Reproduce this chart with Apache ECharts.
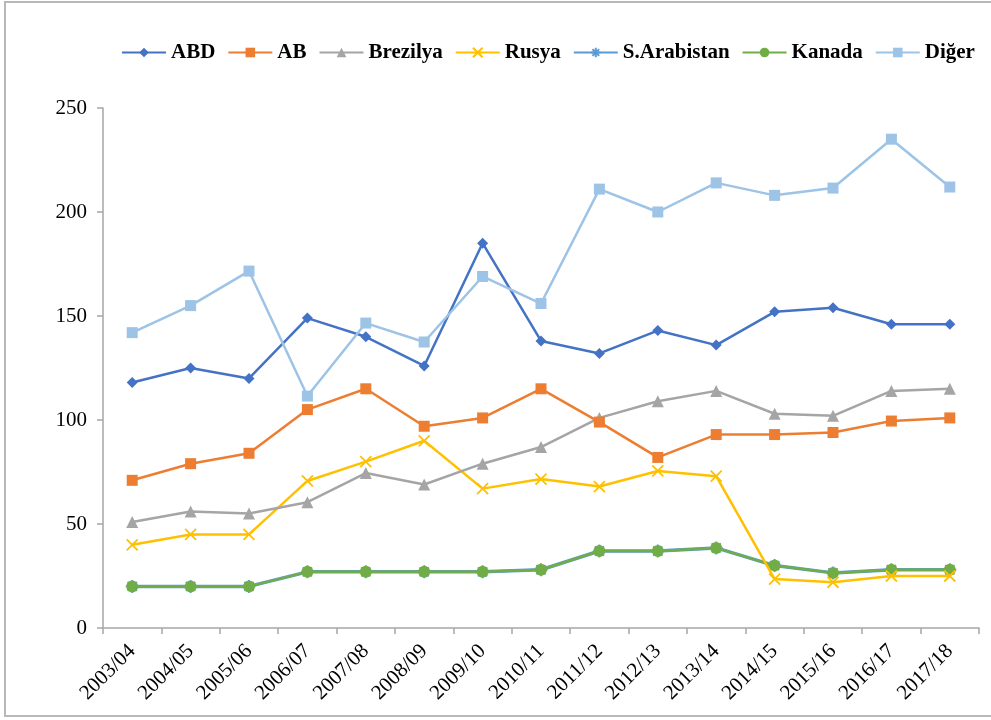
<!DOCTYPE html>
<html><head><meta charset="utf-8">
<script src="https://cdn.jsdelivr.net/npm/echarts@6/dist/echarts.min.js"></script>
<style>html,body{margin:0;padding:0;background:#fff}#c{width:991px;height:720px}</style>
</head><body><div id="c"></div>
<script>
const categories = ['2003/04','2004/05','2005/06','2006/07','2007/08','2008/09','2009/10','2010/11','2011/12','2012/13','2013/14','2014/15','2015/16','2016/17','2017/18'];
const abd = [118,125,120,149,140,126,185,138,132,143,136,152,154,146,146];
const ab = [71,79,84,105,115,97,101,115,99,82,93,93,94,99.5,101];
const brezilya = [51,56,55,60.5,74.5,69,79,87,101,109,114,103,102,114,115];
const rusya = [40,45,45,70.7,80,90,67,71.6,68,75.5,73,23.5,22,25,25];
const sArabistan = [20,20,20,27,27,27,27,28,37,37,38.5,30,26.5,28,28];
const kanada = [20,20,20,27,27,27,27,28,37,37,38.5,30,26.5,28,28];
const diger = [142,155,171.6,111.5,146.6,137.5,169,156,211,200,214,208,211.5,235,212];
const yTicks = [0,50,100,150,200,250];

const font = "'Liberation Serif','Times New Roman',serif";
function s(name, data, color, symbol, size, z){
  return {name, type:'line', data, z, color, symbol, symbolSize:size, showSymbol:true,
    lineStyle:{width:2.5,color}, itemStyle:{color}};
}
const xSym = 'path://M0,0 L10,10 M10,0 L0,10';
const starSym = 'path://M5,0 L5,10 M0,5 L10,5 M1.5,1.5 L8.5,8.5 M8.5,1.5 L1.5,8.5';
const series = [
  s('ABD', abd, '#4472C4', 'diamond', 11, 7),
  s('AB', ab, '#ED7D31', 'rect', 11, 6),
  s('Brezilya', brezilya, '#A5A5A5', 'triangle', 12, 5),
  {name:'Rusya', type:'line', data:rusya, z:4, color:'#FFC000', symbol:xSym, symbolSize:11,
    lineStyle:{width:2.5,color:'#FFC000'}, itemStyle:{color:'none', borderColor:'#FFC000', borderWidth:1.8}},
  {name:'S.Arabistan', type:'line', data:sArabistan, z:2, color:'#5B9BD5', symbol:starSym, symbolSize:13,
    lineStyle:{width:3.5,color:'#5B9BD5'}, itemStyle:{color:'none', borderColor:'#5B9BD5', borderWidth:1.8}},
  s('Kanada', kanada, '#70AD47', 'circle', 12, 3),
  s('Diğer', diger, '#9DC3E6', 'rect', 11, 8)
];
const chart = echarts.init(document.getElementById('c'));
chart.setOption({
  animation:false,
  backgroundColor:'#fff',
  graphic:[{type:'rect', shape:{x:5,y:2,width:1000,height:714}, style:{fill:'none', stroke:'#b8b8b8', lineWidth:2}, silent:true}],
  legend:{top:37, left:116, itemGap:12, itemWidth:44, itemHeight:12,
    textStyle:{fontFamily:font, fontSize:21, fontWeight:'bold', color:'#000'},
    data:series.map(x=>x.name)},
  grid:{left:103, right:12, top:108, bottom:92, containLabel:false},
  xAxis:{type:'category', data:categories, boundaryGap:true,
    axisLine:{lineStyle:{color:'#a6a6a6', width:1.5}},
    axisTick:{show:true, length:6, alignWithLabel:false, lineStyle:{color:'#a6a6a6', width:1.5}},
    axisLabel:{rotate:45, fontFamily:font, fontSize:21, color:'#000', margin:20, interval:0}},
  yAxis:{type:'value', min:yTicks[0], max:yTicks[yTicks.length-1], interval:50,
    axisLine:{show:true, lineStyle:{color:'#a6a6a6', width:1.5}},
    axisTick:{show:true, length:6, inside:false, lineStyle:{color:'#a6a6a6', width:1.5}},
    splitLine:{show:false},
    axisLabel:{fontFamily:font, fontSize:21, color:'#000', margin:16}},
  series
});
</script></body></html>
